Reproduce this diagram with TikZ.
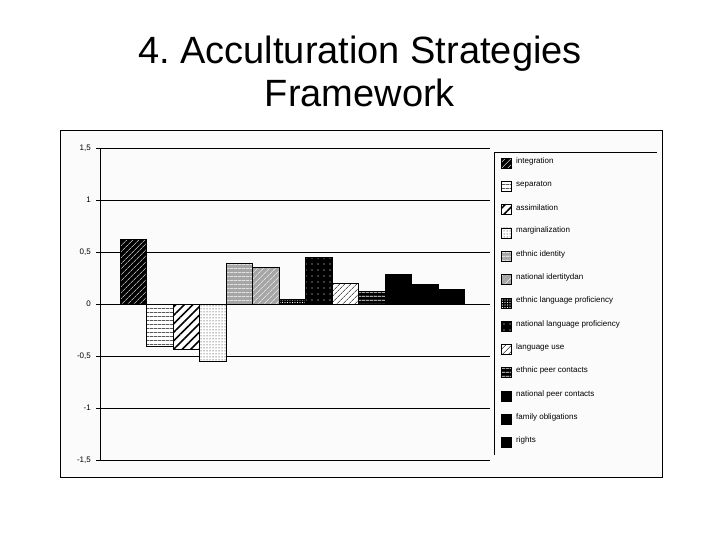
\documentclass[tikz,border=0pt]{standalone}
\usepackage{fontspec}
\setmainfont{Liberation Sans}
\usetikzlibrary{patterns,patterns.meta}
\tikzset{
 grid/.style={black, line width=0.8pt},
 barbox/.style={draw=black, line width=0.6pt},
 ticklab/.style={anchor=east, font=\fontsize{8}{9}\selectfont, inner sep=1pt},
 leglab/.style={anchor=west, font=\fontsize{8}{9}\selectfont, inner sep=0pt},
 p1/.style={pattern={Lines[angle=45,distance=4pt,line width=0.6pt]}, pattern color=white},
 p2/.style={pattern={Lines[angle=0,distance=4pt,line width=0.6pt]}, pattern color=black},
 p3/.style={pattern={Lines[angle=45,distance=6pt,line width=1.6pt]}, pattern color=black},
 p4/.style={pattern={Dots[distance=3pt,radius=0.5pt]}, pattern color=black},
 p5/.style={pattern={Lines[angle=0,distance=4pt,line width=0.8pt]}, pattern color=white},
 p6/.style={pattern={Lines[angle=45,distance=4pt,line width=0.6pt]}, pattern color=white},
 p7/.style={pattern={Dots[distance=2.5pt,radius=0.6pt]}, pattern color=white},
 p8/.style={pattern={Dots[distance=6pt,radius=0.6pt]}, pattern color=white},
 p9/.style={pattern={Lines[angle=45,distance=4pt,line width=0.6pt]}, pattern color=black},
 p10/.style={pattern={Lines[angle=0,distance=4pt,line width=1pt]}, pattern color=white},
 p11/.style={}, p12/.style={}, p13/.style={},
}
\begin{document}
\begin{tikzpicture}[x=1pt,y=-1pt]
\useasboundingbox (0,0) rectangle (720,540);
\fill[white] (0,0) rectangle (720,540);
\node[font=\fontsize{38}{43}\selectfont, align=center] (title) at (360,71) {\frenchspacing 4. Acculturation Strategies\\Framework};
\draw[black, line width=0.8pt, fill=gray!3] (60,130) rectangle (662,477);
% gridlines
\foreach \v/\t in {1.5/{1,5},1/1,0.5/{0,5},0/0,-0.5/{-0,5},-1/-1,-1.5/{-1,5}}{
  \draw[grid] (96,{304-104*\v}) -- (490,{304-104*\v});
  \node[ticklab] at (92,{304-104*\v}) {\t};
}
\draw[grid] (100,148) -- (100,460);
% bars
\foreach \i/\v/\c in {1/0.62/black,2/-0.41/white,3/-0.44/white,4/-0.55/white,5/0.39/gray!70,6/0.35/gray!70,7/0.05/black,8/0.45/black,9/0.2/white,10/0.12/black,11/0.29/gray!70,12/0.19/white,13/0.14/black}{
  \fill[\c] ({120+26.5*(\i-1)},304) rectangle ({120+26.5*\i},{304-104*\v});
  \fill[p\i] ({120+26.5*(\i-1)},304) rectangle ({120+26.5*\i},{304-104*\v});
  \draw[barbox] ({120+26.5*(\i-1)},304) rectangle ({120+26.5*\i},{304-104*\v});
}
% legend
\draw[line width=0.8pt] (494,455) -- (494,152) -- (657,152);
\foreach \i/\t/\c in {1/integration/black,2/separaton/white,3/assimilation/white,4/marginalization/white,5/ethnic identity/gray!70,6/national idertitydan/gray!70,7/ethnic language proficiency/black,8/national language proficiency/black,9/language use/white,10/ethnic peer contacts/black,11/national peer contacts/gray!70,12/family obligations/white,13/rights/black}{
  \fill[\c] (501,{158+23.3*(\i-1)}) rectangle (511,{168+23.3*(\i-1)});
  \fill[p\i] (501,{158+23.3*(\i-1)}) rectangle (511,{168+23.3*(\i-1)});
  \draw[barbox] (501,{158+23.3*(\i-1)}) rectangle (511,{168+23.3*(\i-1)});
  \node[leglab] (l\i) at (516,{161+23.3*(\i-1)}) {\t};
}
\end{tikzpicture}
\end{document}
